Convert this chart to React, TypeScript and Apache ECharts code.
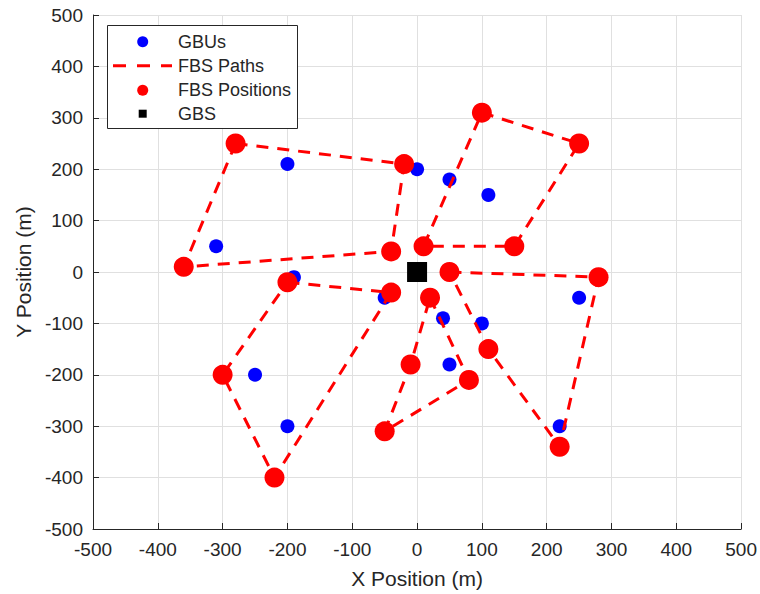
import React, { useEffect, useRef } from "react";
import * as echarts from "echarts";

// ---- Data (metres) ----
const gbuPoints: number[][] = [
  [-200, 210], [0, 200], [50, 180], [110, 150], [-310, 50], [-190, -10],
  [-50, -50], [40, -90], [100, -100], [250, -50], [-250, -200], [50, -180],
  [-200, -300], [220, -300],
];
const fbsPath1: number[][] = [[-280, 250], [-20, 210], [-40, 40], [-360, 10]];
const fbsPath2: number[][] = [[100, 310], [250, 250], [150, 50], [10, 50]];
const fbsPath3: number[][] = [[-200, -20], [-40, -40], [-220, -400], [-300, -200]];
const fbsPath4: number[][] = [[50, 0], [280, -10], [220, -340], [110, -150]];
const fbsPath5: number[][] = [[20, -50], [80, -210], [-50, -310], [-10, -180]];
const gbsPoint: number[][] = [[0, 0]];
const legendLabels = ["GBUs", "FBS Paths", "FBS Positions", "GBS"];
const axisMin = -500;
const axisMax = 500;
const axisStep = 100;
const xTitle = "X Position (m)";
const yTitle = "Y Position (m)";

const FONT = "Liberation Sans, Arial, Helvetica, sans-serif";
const TXT = "#262626";
const GRID = "#e0e0e0";

export default function App() {
  const ref = useRef<HTMLDivElement>(null);
  useEffect(() => {
    if (!ref.current) return;
    const chart = echarts.init(ref.current, undefined, { renderer: "svg" });
    const paths = [fbsPath1, fbsPath2, fbsPath3, fbsPath4, fbsPath5];
    const fbsPositions = paths.flat();

    const axisCommon = {
      type: "value",
      min: axisMin,
      max: axisMax,
      interval: axisStep,
      nameLocation: "middle",
      nameTextStyle: { fontFamily: FONT, fontSize: 21, color: TXT },
      axisLine: { show: true, onZero: false, lineStyle: { color: TXT, width: 1 } },
      axisTick: { show: true, inside: true, length: 6, lineStyle: { color: TXT } },
      axisLabel: { fontFamily: FONT, fontSize: 19, color: TXT },
      splitLine: { show: true, lineStyle: { color: GRID, width: 1 } },
    };

    const rowY = [41.7, 65.7, 90.3, 113.7];
    const legendGraphics: any[] = [
      {
        type: "rect",
        z: 100,
        shape: { x: 107.5, y: 25.5, width: 190, height: 103 },
        style: { fill: "#ffffff", stroke: TXT, lineWidth: 1 },
      },
      { type: "circle", z: 101, shape: { cx: 142.7, cy: rowY[0], r: 5.5 }, style: { fill: "#0000ff" } },
      {
        type: "line",
        z: 101,
        shape: { x1: 113, y1: rowY[1], x2: 172, y2: rowY[1] },
        style: { stroke: "#ff0000", lineWidth: 3, lineDash: [13, 11] },
      },
      { type: "circle", z: 101, shape: { cx: 142.7, cy: rowY[2], r: 5.5 }, style: { fill: "#ff0000" } },
      { type: "rect", z: 101, shape: { x: 138.7, y: rowY[3] - 4, width: 8, height: 8 }, style: { fill: "#000000" } },
      ...legendLabels.map((t, i) => ({
        type: "text",
        z: 101,
        x: 178,
        y: rowY[i],
        style: { text: t, fontFamily: FONT, fontSize: 18, fill: TXT, verticalAlign: "middle", align: "left" },
      })),
    ];

    chart.setOption({
      animation: false,
      backgroundColor: "#ffffff",
      grid: { left: 93, right: 17, top: 15, bottom: 64, containLabel: false },
      xAxis: { ...axisCommon, name: xTitle, nameGap: 39, axisLabel: { ...axisCommon.axisLabel, margin: 11 } },
      yAxis: { ...axisCommon, name: yTitle, nameGap: 57, axisLabel: { ...axisCommon.axisLabel, margin: 10 } },
      graphic: legendGraphics,
      series: [
        {
          name: legendLabels[0],
          type: "scatter",
          data: gbuPoints,
          symbol: "circle",
          symbolSize: 14,
          itemStyle: { color: "#0000ff", opacity: 1 },
          silent: true,
          z: 2,
        },
        ...paths.map((p) => ({
          name: legendLabels[1],
          type: "line",
          data: [...p, p[0]],
          symbol: "none",
          lineStyle: { color: "#ff0000", width: 3, type: [12, 9], opacity: 1 },
          silent: true,
          z: 3,
        })),
        {
          name: legendLabels[2],
          type: "scatter",
          data: fbsPositions,
          symbol: "circle",
          symbolSize: 20,
          itemStyle: { color: "#ff0000", opacity: 1 },
          silent: true,
          z: 4,
        },
        {
          name: legendLabels[3],
          type: "scatter",
          data: gbsPoint,
          symbol: "rect",
          symbolSize: 20,
          itemStyle: { color: "#000000", opacity: 1 },
          silent: true,
          z: 5,
        },
      ],
    } as any);
    return () => chart.dispose();
  }, []);
  return (
    <div
      ref={ref}
      style={{ position: "fixed", left: 0, top: 0, width: 760, height: 594, background: "#fff" }}
    />
  );
}
